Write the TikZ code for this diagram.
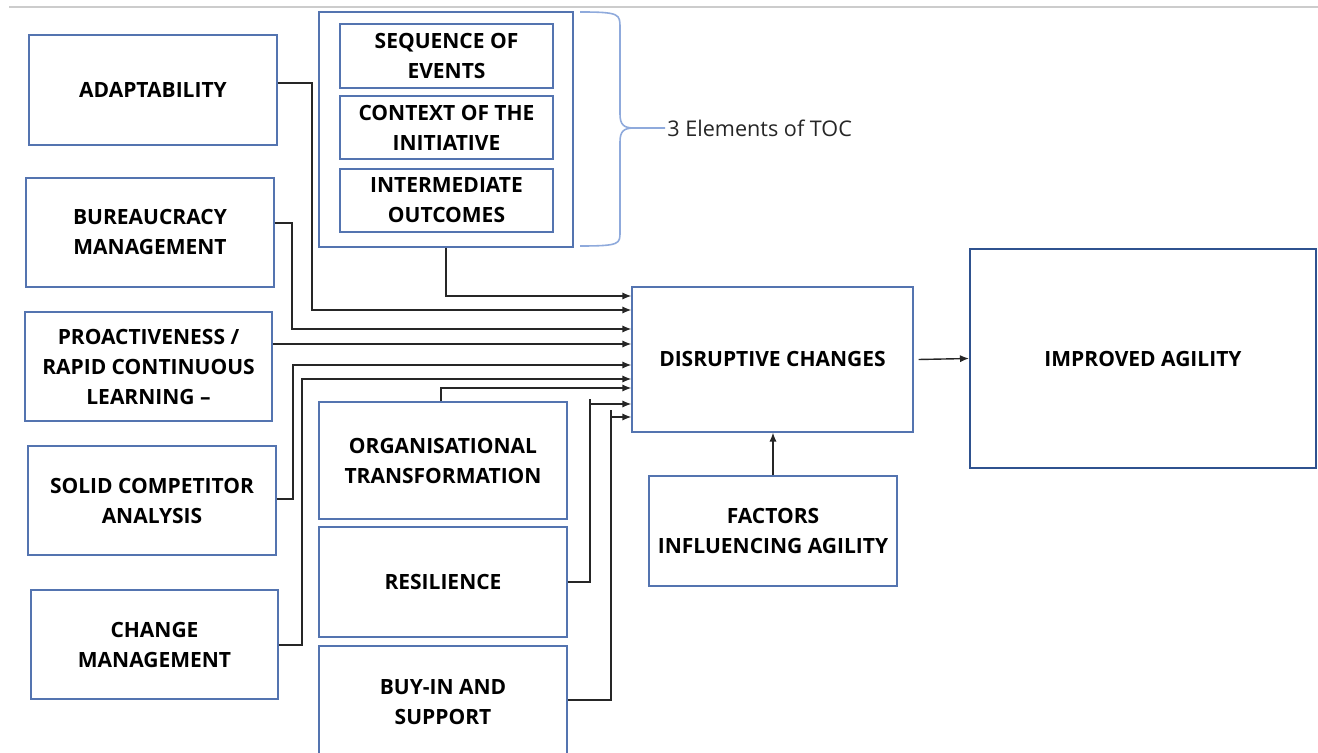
\documentclass[tikz,border=0pt]{standalone}
\usepackage{fontspec}
\setmainfont{Open Sans}
\usetikzlibrary{arrows.meta}
\definecolor{boxblue}{RGB}{84,116,176}
\definecolor{darkblue}{RGB}{47,82,143}
\definecolor{bracecol}{RGB}{143,170,220}
\tikzset{
  blk/.style={draw=boxblue, line width=0.6pt, align=center, inner sep=0pt,
    font=\bfseries\fontsize{10.5}{15}\selectfont},
  conn/.style={draw=black!85, line width=0.7pt},
}
\begin{document}
\begin{tikzpicture}[>={Latex[length=4.5pt,width=3.6pt]}, x=0.5pt, y=-0.5pt]
\useasboundingbox (0,0) rectangle (1318,753);
\draw[gray!40, line width=0.8pt] (9,7) -- (1318,7);

\node[blk, minimum width=124pt, minimum height=55pt] (adapt) at (153,90) {ADAPTABILITY};
\node[blk, minimum width=124pt, minimum height=54.5pt] (bureau) at (150,232.5) {BUREAUCRACY\\MANAGEMENT};
\node[blk, minimum width=123.5pt, minimum height=54.5pt] (proact) at (148.5,366.5) {PROACTIVENESS /\\RAPID CONTINUOUS\\LEARNING --};
\node[blk, minimum width=124pt, minimum height=54.5pt] (solid) at (152,500.5) {SOLID COMPETITOR\\ANALYSIS};
\node[blk, minimum width=123.5pt, minimum height=54.5pt] (change) at (154.5,644.5) {CHANGE\\MANAGEMENT};

\node[blk, minimum width=127pt, minimum height=117.5pt] (toc) at (446,129.5) {};
\node[blk, minimum width=106.5pt, minimum height=32pt] (seq) at (446.5,56) {SEQUENCE OF\\EVENTS};
\node[blk, minimum width=106.5pt, minimum height=31.5pt] (ctx) at (446.5,127.5) {CONTEXT OF THE\\INITIATIVE};
\node[blk, minimum width=106.5pt, minimum height=31.5pt] (inter) at (446.5,200.5) {INTERMEDIATE\\OUTCOMES};

\node[blk, minimum width=124pt, minimum height=58.5pt] (org) at (443,460.5) {ORGANISATIONAL\\TRANSFORMATION};
\node[blk, minimum width=124pt, minimum height=55pt] (resil) at (443,582) {RESILIENCE};
\node[blk, minimum width=124pt, minimum height=56pt] (buyin) at (443,702) {BUY-IN AND\\SUPPORT};

\node[blk, minimum width=140.5pt, minimum height=72.5pt] (disr) at (772.5,359.5) {DISRUPTIVE CHANGES};
\node[blk, draw=darkblue, line width=1pt, minimum width=173pt, minimum height=109.5pt] (impr) at (1143,358.5) {IMPROVED AGILITY};
\node[blk, minimum width=124pt, minimum height=55pt] (factors) at (773,531) {FACTORS\\INFLUENCING AGILITY};

\node[anchor=west, text=black!85, font=\fontsize{10.8}{12}\selectfont, inner sep=1pt] (toclbl) at (665,128) {3 Elements of TOC};
\draw[bracecol, line width=0.8pt] (580,12) .. controls (620,12) and (620,14) .. (620,28) -- (620,114)
  .. controls (620,125) and (624,128) .. (634,128) -- (toclbl.west);
\draw[bracecol, line width=0.8pt] (634,128) .. controls (624,128) and (620,131) .. (620,142) -- (620,232)
  .. controls (620,244) and (620,246) .. (580,246);

\draw[conn,->] (toc.south) |- (disr.west |- 0,296);
\draw[conn,->] (adapt.east |- 0,83) -| (312,310) -- (disr.west |- 0,310);
\draw[conn,->] (bureau.east |- 0,223) -| (292,329) -- (disr.west |- 0,329);
\draw[conn,->] (proact.east |- 0,344) -- (disr.west |- 0,344);
\draw[conn,->] (solid.east |- 0,499) -| (293,365) -- (disr.west |- 0,365);
\draw[conn,->] (change.east |- 0,645) -| (302,379) -- (disr.west |- 0,379);
\draw[conn,->] (org.north -| 441,0) |- (disr.west |- 0,388);
\draw[conn] (resil.east) -| (590,399);
\draw[conn,->] (590,404) -- (disr.west |- 0,404);
\draw[conn] (buyin.east |- 0,700) -| (611,410);
\draw[conn,->] (611,417) -- (disr.west |- 0,417);

\draw[conn,->] ([xshift=2.5pt]disr.east) -- (impr.west);
\draw[conn,->] (factors.north) -- (factors.north |- disr.south);
\end{tikzpicture}
\end{document}
